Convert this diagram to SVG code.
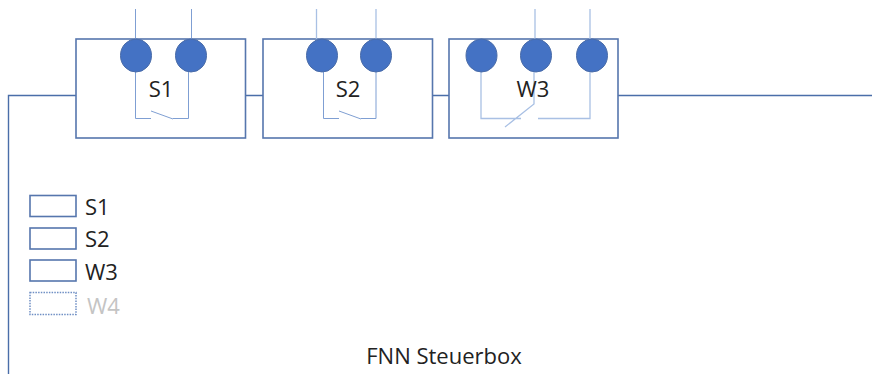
<svg xmlns="http://www.w3.org/2000/svg" width="872" height="374" viewBox="0 0 872 374">
<style>
.box{fill:#fff;stroke:#5676ad;stroke-width:1.6}
.wire{fill:none;stroke:#4a6ea9;stroke-width:1.4}
.thin{fill:none;stroke:#a9c0e4;stroke-width:1.3}
.thin2{fill:none;stroke:#7f9fd3;stroke-width:1}
.pin{fill:#4472c4;stroke:#4a6ca8;stroke-width:1}
text{font-family:"Open Sans","Noto Sans","Liberation Sans",sans-serif;fill:#222}
.t{font-size:22px;text-anchor:middle}
.l{font-size:22px}
.off{fill:#c4c4c4}
.dash{fill:#fff;stroke:#6f8fc4;stroke-width:1.5;stroke-dasharray:1.5 1.2}
</style>
<g id="connectors">
<path class="wire" d="M8.500 374V95.500H76M246 95.500H263M433 95.500H449M618 95.500H872"/>
</g>
<g id="s1">
<rect class="box" x="76" y="39" width="169.500" height="99"/>
<path class="thin2" d="M135.500 9V39M191.500 9V39"/>
<path class="thin2" d="M135.500 72V118.500H151M151 111L173 119M173 118.500H188.500V72"/>
<ellipse class="pin" cx="136" cy="55.500" rx="15.500" ry="16.500"/>
<ellipse class="pin" cx="191" cy="55.500" rx="15.500" ry="16.500"/>
<text class="t" x="161" y="97">S1</text>
</g>
<g id="s2">
<rect class="box" x="263" y="39" width="169.500" height="99"/>
<path class="thin" d="M316.500 9V39M376 9V39"/>
<path class="thin2" d="M323.500 72V118.500H339M339 111L361 119M361 118.500H376V72"/>
<ellipse class="pin" cx="322" cy="55.500" rx="15.500" ry="16.500"/>
<ellipse class="pin" cx="376" cy="55.500" rx="15.500" ry="16.500"/>
<text class="t" x="348" y="97">S2</text>
</g>
<g id="w3">
<rect class="box" x="449" y="39" width="169" height="99"/>
<path class="thin" d="M535 9V39M590 9V39"/>
<path class="thin" d="M481 72V118.500H521M534 72V104L505 127M538 118.500H590V72"/>
<ellipse class="pin" cx="481.500" cy="55.500" rx="15.500" ry="16.500"/>
<ellipse class="pin" cx="536" cy="55.500" rx="15.500" ry="16.500"/>
<ellipse class="pin" cx="592" cy="55.500" rx="15.500" ry="16.500"/>
<text class="t" x="533" y="97">W3</text>
</g>
<g id="legend-s1">
<rect class="box" x="30" y="195.500" width="46" height="21"/>
<text class="l" x="85" y="215">S1</text>
</g>
<g id="legend-s2">
<rect class="box" x="30" y="228" width="46" height="21"/>
<text class="l" x="85" y="247">S2</text>
</g>
<g id="legend-w3">
<rect class="box" x="30" y="260" width="46" height="21"/>
<text class="l" x="85" y="280">W3</text>
</g>
<g id="legend-w4">
<rect class="dash" x="30" y="292.500" width="46" height="22"/>
<text class="l off" x="87" y="314">W4</text>
</g>
<g id="title">
<text x="444" y="364" font-size="22" text-anchor="middle">FNN Steuerbox</text>
</g>
</svg>
